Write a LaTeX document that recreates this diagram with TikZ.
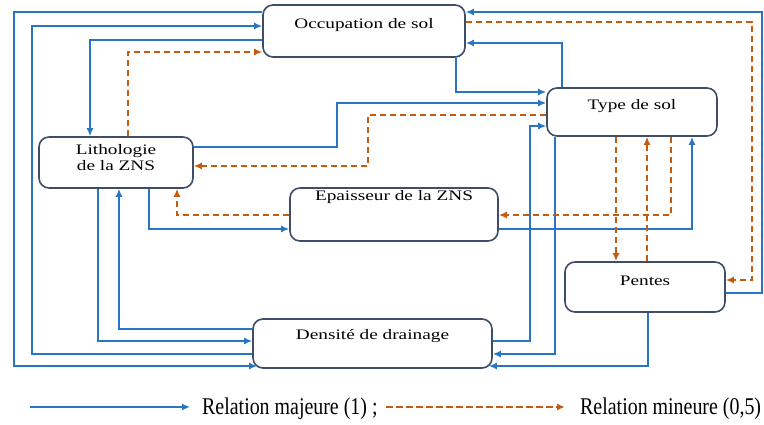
\documentclass[tikz,border=0pt]{standalone}
\usepackage{fontspec}
\setmainfont{Liberation Serif}
\newfontfamily\boxfont[FakeStretch=1.33]{Liberation Serif}
\newfontfamily\legfont[FakeStretch=0.83]{Liberation Serif}
\usetikzlibrary{arrows.meta,calc}
\definecolor{majblue}{RGB}{40,118,195}
\definecolor{minor}{RGB}{197,90,17}
\definecolor{boxline}{RGB}{62,78,104}
\tikzset{
  boxnode/.style={draw=boxline,line width=1.6pt,rounded corners=10pt,fill=white,inner sep=0pt},
  boxtext/.style={anchor=base,inner sep=0pt,font=\boxfont\fontsize{14.5}{16}\selectfont,align=center},
  maj/.style={draw=majblue,line width=2.4pt,-{Latex[length=8pt,width=7pt]}},
  mino/.style={draw=minor,line width=2.7pt,dash pattern=on 6.5pt off 3.5pt,-{Latex[length=8pt,width=7pt]}},
  legtext/.style={anchor=base west,inner sep=0pt,font=\legfont\fontsize{24}{26}\selectfont}
}
\begin{document}
\begin{tikzpicture}[x=1pt,y=-1pt]
\useasboundingbox (0,0) rectangle (764,425);
% boxes
\node[boxnode,minimum width=202pt,minimum height=52pt] (occ) at (364,31) {};
\node[boxnode,minimum width=170pt,minimum height=48pt] (typ) at (632,112) {};
\node[boxnode,minimum width=154pt,minimum height=51pt] (lith) at (116,162.5) {};
\node[boxnode,minimum width=208pt,minimum height=53pt] (ep) at (394,214.5) {};
\node[boxnode,minimum width=239pt,minimum height=49pt] (dens) at (372.5,343.5) {};
\node[boxnode,minimum width=160pt,minimum height=50pt] (pen) at (645,287) {};
% texts
\node[boxtext] (occt) at (occ |- 0,29) {Occupation de sol};
\node[boxtext] (typt) at (typ |- 0,110) {Type de sol};
\node[boxtext] (litht1) at (lith |- 0,155) {Lithologie};
\node[boxtext] (litht2) at (lith |- 0,171) {de la ZNS};
\node[boxtext] (ept) at (ep |- 0,200.5) {Epaisseur de la ZNS};
\node[boxtext] (denst) at (dens |- 0,339) {Densité de drainage};
\node[boxtext] (pent) at (pen |- 0,285) {Pentes};
% major relations
\draw[maj] (occ.west |- 0,12) -| (14,366) -- ($(dens.west |- 0,366)+(5,0)$);
\draw[maj] (dens.west |- 0,354) -| (32,26) -- (occ.west |- 0,26);
\draw[maj] (occ.west |- 0,40) -| (lith.north -| 90,0);
\draw[maj] (lith.east |- 0,147) -| (337,103) -- (typ.west |- 0,103);
\draw[maj] (occ.south -| 456,0) |- (typ.west |- 0,92);
\draw[maj] (typ.north -| 562,0) |- (occ.east |- 0,43);
\draw[maj] (dens.east |- 0,341) -| (530,126) -- (typ.west |- 0,126);
\draw[maj] (typ.south -| 555,0) |- (dens.east |- 0,354);
\draw[maj] (pen.south -| 648,0) |- ($(dens.east |- 0,366)+(-4,0)$);
\draw[maj] (pen.east |- 0,293) -| (762,12) -- (occ.east |- 0,12);
\draw[maj] (ep.east |- 0,229) -| (typ.south -| 692,0);
\draw[maj] (lith.south -| 98,0) |- (dens.west |- 0,341);
\draw[maj] (dens.west |- 0,329) -| (lith.south -| 119,0);
\draw[maj] (lith.south -| 149,0) |- (ep.west |- 0,229);
% minor relations
\draw[mino] (lith.north -| 128,0) |- (occ.west |- 0,52);
\draw[mino] (typ.west |- 0,115) -| (368,166) -- (lith.east |- 0,166);
\draw[mino] (occ.east |- 0,22) -| (752,280) -- (pen.east |- 0,280);
\draw[mino] (typ.south -| 616,0) -- (pen.north -| 616,0);
\draw[mino] (pen.north -| 647,0) -- (typ.south -| 647,0);
\draw[mino] (typ.south -| 671,0) |- (ep.east |- 0,215);
\draw[mino] (ep.west |- 0,215) -| (lith.south -| 177,0);
% legend
\coordinate (l1a) at (30,407);
\coordinate (l1b) at (190,407);
\coordinate (l2a) at (386,407);
\coordinate (l2b) at (565,407);
\draw[maj] (l1a) -- (l1b);
\node[legtext] (lt1) at (202,414) {Relation majeure (1) ;};
\draw[mino] (l2a) -- (l2b);
\node[legtext] (lt2) at (580,414) {Relation mineure (0,5)};
\end{tikzpicture}
\end{document}
